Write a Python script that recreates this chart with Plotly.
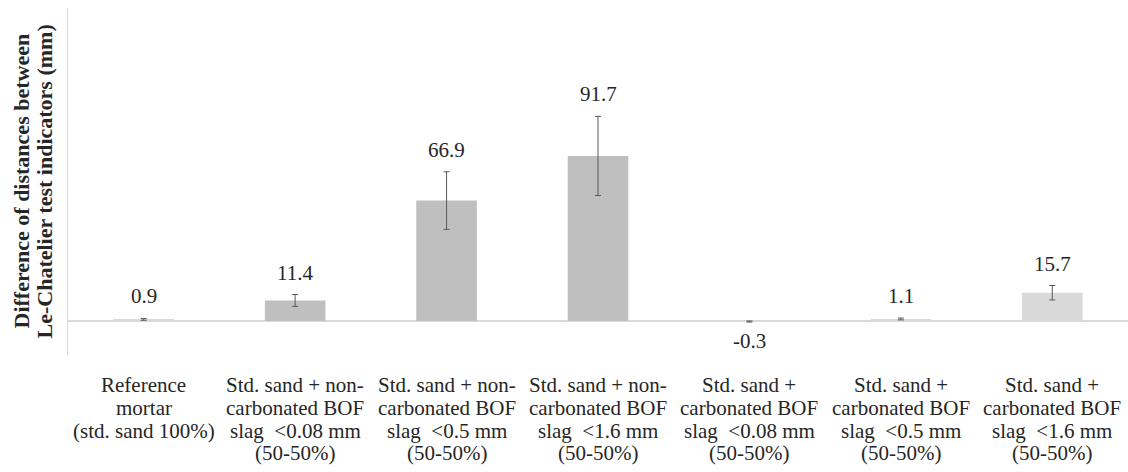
import plotly.graph_objects as go

categories = [
    "Reference<br>mortar<br>(std. sand 100%)",
    "Std. sand + non-<br>carbonated BOF<br>slag  <0.08 mm<br>(50-50%)",
    "Std. sand + non-<br>carbonated BOF<br>slag  <0.5 mm<br>(50-50%)",
    "Std. sand + non-<br>carbonated BOF<br>slag  <1.6 mm<br>(50-50%)",
    "Std. sand +<br>carbonated BOF<br>slag  <0.08 mm<br>(50-50%)",
    "Std. sand +<br>carbonated BOF<br>slag  <0.5 mm<br>(50-50%)",
    "Std. sand +<br>carbonated BOF<br>slag  <1.6 mm<br>(50-50%)",
]
values = [0.9, 11.4, 66.9, 91.7, -0.3, 1.1, 15.7]
errors = [0.5, 3.3, 16.0, 22.0, 0.3, 0.5, 4.0]
bar_colors = ["#d9d9d9", "#bfbfbf", "#bfbfbf", "#bfbfbf", "#d9d9d9", "#d9d9d9", "#d9d9d9"]
y_title_lines = ["Difference of distances between", "Le-Chatelier test indicators (mm)"]

FONT = "Liberation Serif"
TXT = "#262626"

fig = go.Figure()
fig.add_trace(go.Bar(
    x=categories, y=values,
    marker=dict(color=bar_colors, line=dict(width=0)),
    error_y=dict(type="data", array=errors, visible=True,
                 color="#595959", thickness=1, width=3),
    hoverinfo="skip",
))

# value labels
for c, v, e in zip(categories, values, errors):
    if v >= 0:
        fig.add_annotation(x=c, y=v + e, text=f"{v}", showarrow=False,
                           yanchor="middle", yshift=22,
                           font=dict(family=FONT, size=21, color=TXT))
    else:
        fig.add_annotation(x=c, y=v - e, text=f"{v}", showarrow=False,
                           yanchor="middle", yshift=-19,
                           font=dict(family=FONT, size=21, color=TXT))

# category labels (tight line spacing, one annotation per line)
LINE = 22.8
for c in categories:
    for i, line in enumerate(c.split("<br>")):
        fig.add_annotation(x=c, xref="x", y=0, yref="paper", text=line,
                           showarrow=False, yanchor="middle", xanchor="center",
                           yshift=-(30 + i * LINE),
                           font=dict(family=FONT, size=21, color=TXT))

# y-axis title, two tight lines
for i, line in enumerate(y_title_lines):
    fig.add_annotation(x=0, xref="paper", y=0.5, yref="paper",
                       text=f"<b>{line}</b>", showarrow=False, textangle=-90,
                       xanchor="center", yanchor="middle",
                       xshift=-(47 - i * 23),
                       font=dict(family=FONT, size=22, color=TXT))

fig.update_layout(
    width=1128, height=472,
    margin=dict(l=68, r=0, t=8, b=117),
    paper_bgcolor="white", plot_bgcolor="white",
    bargap=0.6,
    showlegend=False,
    font=dict(family=FONT, size=21, color=TXT),
)
fig.update_xaxes(showline=False, showgrid=False, ticks="", zeroline=False,
                 showticklabels=False)
fig.update_yaxes(range=[-18.9, 173.9], showticklabels=False, ticks="",
                 showgrid=False, zeroline=True, zerolinecolor="#d9d9d9",
                 zerolinewidth=1.5, showline=True, linecolor="#d9d9d9",
                 linewidth=1)

fig.write_html("out.html")
